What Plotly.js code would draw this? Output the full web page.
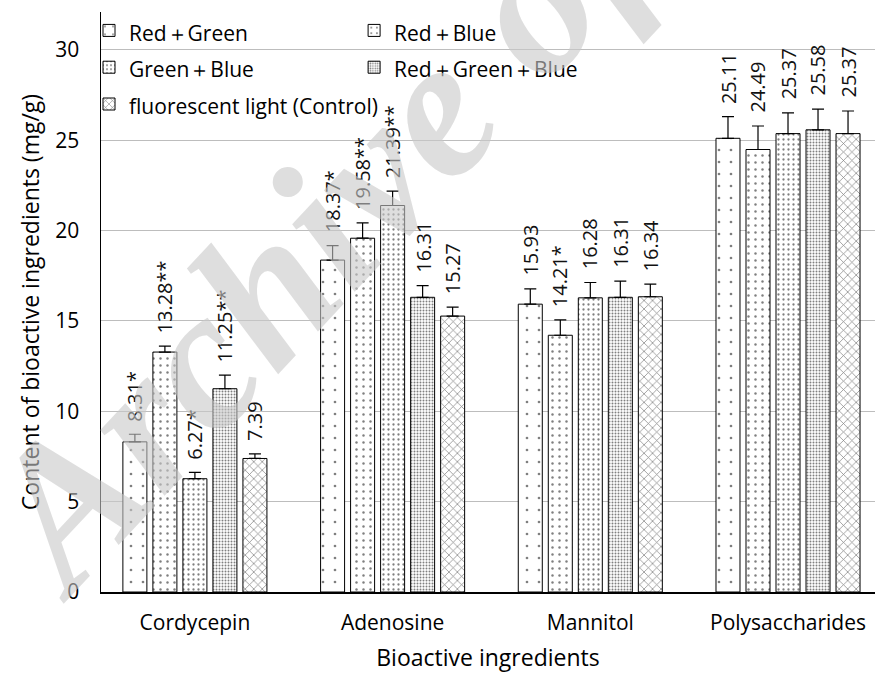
<!DOCTYPE html>
<html>
<head>
<meta charset="utf-8">
<script src="https://cdn.plot.ly/plotly-3.0.1.min.js"></script>
<style>html,body{margin:0;padding:0;background:#fff}</style>
</head>
<body>
<div id="chart" style="width:875px;height:677px"></div>
<script>
const categories = ["Cordycepin", "Adenosine", "Mannitol", "Polysaccharides"];
const seriesNames = ["Red\uFF0BGreen", "Red\uFF0BBlue", "Green\uFF0BBlue", "Red\uFF0BGreen\uFF0BBlue", "fluorescent light (Control)"];
const redGreen      = [8.31, 18.37, 15.93, 25.11];
const redBlue       = [13.28, 19.58, 14.21, 24.49];
const greenBlue     = [6.27, 21.39, 16.28, 25.37];
const redGreenBlue  = [11.25, 16.31, 16.31, 25.58];
const control       = [7.39, 15.27, 16.34, 25.37];
const errRedGreen     = [0.42, 0.80, 0.85, 1.20];
const errRedBlue      = [0.33, 0.85, 0.85, 1.30];
const errGreenBlue    = [0.35, 0.80, 0.85, 1.15];
const errRedGreenBlue = [0.75, 0.65, 0.90, 1.15];
const errControl      = [0.25, 0.50, 0.70, 1.25];
const markRedGreen     = ["*", "*", "", ""];
const markRedBlue      = ["**", "**", "*", ""];
const markGreenBlue    = ["*", "**", "", ""];
const markRedGreenBlue = ["**", "", "", ""];
const markControl      = ["", "", "", ""];
const yTickVals = [0, 5, 10, 15, 20, 25, 30];

const values = [redGreen, redBlue, greenBlue, redGreenBlue, control];
const errs = [errRedGreen, errRedBlue, errGreenBlue, errRedGreenBlue, errControl];
const marks = [markRedGreen, markRedBlue, markGreenBlue, markRedGreenBlue, markControl];
const legendOf = ["legend", "legend2", "legend", "legend2", "legend"];
const patterns = [
  {shape: ".", size: 12, solidity: 0.04},
  {shape: ".", size: 7, solidity: 0.10},
  {shape: ".", size: 5, solidity: 0.17},
  {shape: ".", size: 3, solidity: 0.33},
  {shape: "x", size: 6, solidity: 0.22}
];

const bargap = 0.241;
const nSeries = values.length;
const groupW = 1 - bargap;
const slot = groupW / nSeries;
const FONT = "'Open Sans', Lato, sans-serif";

const traces = values.map((v, j) => ({
  type: "bar",
  name: '<span style="font-size:21px">' + seriesNames[j] + '</span>',
  legend: legendOf[j],
  x: categories,
  y: v,
  marker: {
    color: "#ffffff",
    line: {color: "#000000", width: 1},
    pattern: Object.assign({fgcolor: "#000000", bgcolor: "#ffffff", fillmode: "overlay"}, patterns[j])
  },
  error_y: {type: "data", symmetric: false, array: errs[j], arrayminus: errs[j].map(() => 0),
            color: "#000000", thickness: 1.2, width: 6},
  hoverinfo: "y"
}));

const annotations = [];
values.forEach((v, j) => {
  v.forEach((val, i) => {
    annotations.push({
      x: i - groupW / 2 + slot * (j + 0.5),
      y: val + errs[j][i],
      xref: "x", yref: "y",
      text: val.toFixed(2) + marks[j][i],
      showarrow: false,
      textangle: -90,
      xanchor: "center", yanchor: "bottom",
      yshift: 11,
      font: {family: FONT, size: 20, color: "#111111"}
    });
  });
});
annotations.push({
  x: 0.44, y: 0.85, xref: "paper", yref: "paper",
  xanchor: "center", yanchor: "middle",
  text: "<i><b>Archive of SID</b></i>",
  showarrow: false, textangle: -47,
  font: {family: "'Liberation Serif', 'DejaVu Serif', serif", size: 200, color: "rgba(200,200,200,0.6)"}
});

const legendBase = {
  orientation: "v",
  y: 1.0086, yanchor: "top", xanchor: "left",
  font: {size: 26},
  bgcolor: "rgba(0,0,0,0)",
  itemwidth: 30,
  traceorder: "normal",
  tracegroupgap: 0
};

const layout = {
  width: 875, height: 677,
  margin: {l: 101, r: 0, t: 12, b: 85},
  paper_bgcolor: "#ffffff", plot_bgcolor: "#ffffff",
  barmode: "group",
  bargap: bargap,
  bargroupgap: 0.2,
  font: {family: FONT, color: "#000000"},
  xaxis: {
    type: "category",
    range: [-0.475, 3.44],
    showline: true, linecolor: "#000000", linewidth: 1.5,
    ticks: "", tickfont: {size: 21},
    ticklabelstandoff: 11,
    title: {text: "Bioactive ingredients", font: {size: 23}, standoff: 15}
  },
  yaxis: {
    range: [0, 32.1],
    tickvals: yTickVals,
    showgrid: true, gridcolor: "#bdbdbd", gridwidth: 1,
    zeroline: false,
    showline: true, linecolor: "#000000", linewidth: 1.5,
    ticks: "", tickfont: {size: 21},
    ticklabelstandoff: 16,
    title: {text: "Content of bioactive ingredients (mg/g)", font: {size: 23}, standoff: 9}
  },
  showlegend: true,
  legend: Object.assign({}, legendBase, {x: -0.0155}),
  legend2: Object.assign({}, legendBase, {x: 0.327}),
  annotations: annotations
};

Plotly.newPlot("chart", traces, layout, {displayModeBar: false, staticPlot: true});
</script>
</body>
</html>
